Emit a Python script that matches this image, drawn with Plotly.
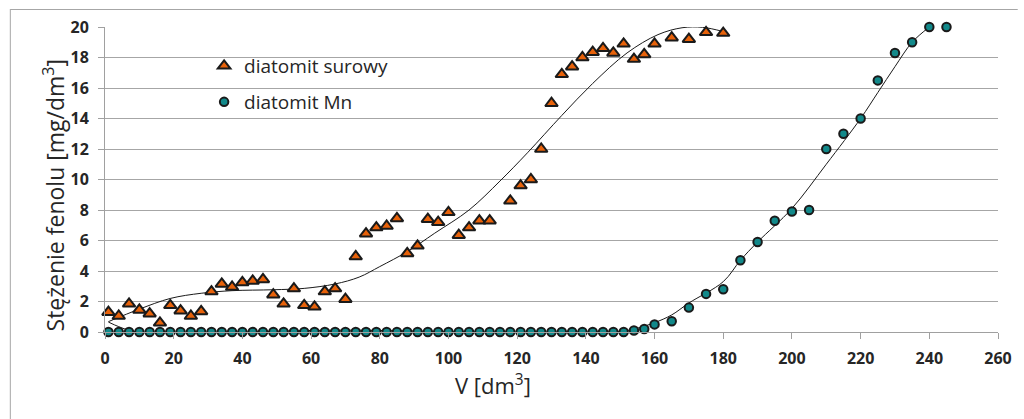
import plotly.graph_objects as go

# --- data ---
v_surowy = [1, 4, 7, 10, 13, 16, 19, 22, 25, 28, 31, 34, 37, 40, 43, 46, 49, 52, 55, 58,
            61, 64, 67, 70, 73, 76, 79, 82, 85, 88, 91, 94, 97, 100, 103, 106, 109, 112,
            118, 121, 124, 127, 130, 133, 136, 139, 142, 145, 148, 151, 154, 157, 160,
            165, 170, 175, 180]
c_surowy = [1.3, 1.05, 1.85, 1.45, 1.2, 0.6, 1.75, 1.4, 1.05, 1.35, 2.65, 3.15, 2.95, 3.25,
            3.35, 3.45, 2.45, 1.85, 2.85, 1.75, 1.65, 2.65, 2.85, 2.15, 4.95, 6.45, 6.85,
            6.95, 7.45, 5.15, 5.65, 7.4, 7.2, 7.85, 6.35, 6.85, 7.3, 7.3,
            8.6, 9.6, 10.0, 12.0, 15.0, 16.9, 17.4, 18.0, 18.35, 18.6, 18.3, 18.9, 17.9,
            18.2, 18.9, 19.3, 19.2, 19.65, 19.6]

v_mn = [1, 4, 7, 10, 13, 16, 19, 22, 25, 28, 31, 34, 37, 40, 43, 46, 49, 52, 55, 58,
        61, 64, 67, 70, 73, 76, 79, 82, 85, 88, 91, 94, 97, 100, 103, 106, 109, 112,
        115, 118, 121, 124, 127, 130, 133, 136, 139, 142, 145, 148, 151,
        154, 157, 160, 165, 170, 175, 180, 185, 190, 195, 200, 205, 210, 215, 220,
        225, 230, 235, 240, 245]
c_mn = [0] * 51 + [0.1, 0.2, 0.5, 0.7, 1.6, 2.5, 2.8, 4.7, 5.9, 7.3, 7.9, 8.0, 12.0, 13.0,
                   14.0, 16.5, 18.3, 19.0, 20.0, 20.0]

# trend curves
trend_surowy_v = [1, 10, 19, 28, 37, 49, 58, 67, 74, 80, 88, 96, 106, 115, 123, 133, 142,
                  152, 161, 168, 174, 180]
trend_surowy_c = [0.68, 1.5, 2.2, 2.54, 2.71, 2.77, 2.86, 3.15, 3.6, 4.29, 5.27, 6.48, 8.0,
                  9.9, 11.75, 14.2, 16.3, 18.3, 19.5, 19.95, 19.98, 19.7]
trend_mn_v = [1, 4, 8, 15, 30, 45, 60, 72, 85, 100, 120, 140, 150, 155, 160, 165, 170, 180,
              185, 190, 200, 210, 220, 225, 230, 235, 240]
trend_mn_c = [0.65, 0.35, 0.05, -0.1, -0.05, 0.02, 0.1, 0.12, 0.08, 0.02, -0.02, 0.0, 0.03,
              0.25, 0.61, 1.12, 1.9, 3.3, 4.7, 5.9, 8.1, 11.0, 14.0, 15.7, 17.4, 19.0, 20.0]

x_ticks = list(range(0, 261, 20))
y_ticks = list(range(0, 21, 2))

names = ["diatomit surowy", "diatomit Mn"]

# layout geometry (pixels)
W, H = 1024, 419
L, R, T, B = 104.5, 14, 27, 87
pw = W - L - R
ph = H - T - B

def px(xp):
    return (xp - L) / pw

def py(yp):
    return (H - B - yp) / ph

fig = go.Figure()
fig.add_trace(go.Scatter(x=trend_surowy_v, y=trend_surowy_c, mode="lines",
                         line=dict(color="#1a1a1a", width=1, shape="spline"),
                         showlegend=False, hoverinfo="skip"))
fig.add_trace(go.Scatter(x=trend_mn_v, y=trend_mn_c, mode="lines",
                         line=dict(color="#1a1a1a", width=1, shape="spline"),
                         showlegend=False, hoverinfo="skip"))
fig.add_trace(go.Scatter(x=v_mn, y=c_mn, mode="markers", name=names[1], legend="legend2",
                         marker=dict(symbol="circle", size=8.5, color="#12898a",
                                     line=dict(color="#1a1a1a", width=2)),
                         cliponaxis=False))
fig.add_trace(go.Scatter(x=v_surowy, y=c_surowy, mode="markers", name=names[0], legend="legend",
                         marker=dict(symbol="triangle-up", size=11, color="#e8620a",
                                     line=dict(color="#1a1a1a", width=2)),
                         cliponaxis=False))

tickfont = dict(family="Open Sans", size=16, color="#262626", weight="bold")
legfont = dict(family="Open Sans", size=19, color="#262626")
fig.update_layout(
    width=W, height=H,
    margin=dict(l=L, r=R, t=T, b=B),
    paper_bgcolor="white", plot_bgcolor="white",
    xaxis=dict(range=[0, 260], tickvals=x_ticks, ticktext=[str(t) for t in x_ticks],
               showgrid=False, zeroline=False, showline=True, linecolor="#a0a0a0", linewidth=1,
               ticks="outside", ticklen=6, tickcolor="#a0a0a0", tickfont=tickfont,
               ticklabelstandoff=6),
    yaxis=dict(range=[0, 20], tickvals=y_ticks, ticktext=[str(t) for t in y_ticks],
               showgrid=True, gridcolor="#a6a6a6", gridwidth=1, zeroline=False,
               showline=True, linecolor="#a0a0a0", linewidth=1,
               ticks="outside", ticklen=6, tickcolor="#a0a0a0", tickfont=tickfont,
               ticklabelstandoff=6),
    legend=dict(x=px(205), y=py(66), xanchor="left", yanchor="middle",
                bgcolor="rgba(0,0,0,0)", font=legfont),
    legend2=dict(x=px(205), y=py(102), xanchor="left", yanchor="middle",
                 bgcolor="rgba(0,0,0,0)", font=legfont),
    shapes=[
        dict(type="rect", xref="paper", yref="paper", x0=px(192), x1=px(448),
             y0=py(119), y1=py(30), fillcolor="white", line=dict(width=0), layer="between"),
        dict(type="line", xref="paper", yref="paper", x0=px(8.5), x1=px(8.5),
             y0=py(9), y1=py(430), line=dict(color="#a6a6a6", width=1)),
        dict(type="line", xref="paper", yref="paper", x0=px(8.5), x1=px(1030),
             y0=py(9.5), y1=py(9.5), line=dict(color="#a6a6a6", width=1)),
    ],
    annotations=[
        dict(text="Stężenie fenolu [mg/dm<sup>3</sup>]", xref="paper", yref="paper",
             x=px(34), y=py(195), textangle=-90, showarrow=False,
             font=dict(family="Open Sans", size=23, color="#262626")),
        dict(text="V [dm<sup>3</sup>]", xref="paper", yref="paper",
             x=px(498), y=py(402), showarrow=False,
             font=dict(family="Open Sans", size=22, color="#262626")),
    ],
)

fig.write_html("out.html")
